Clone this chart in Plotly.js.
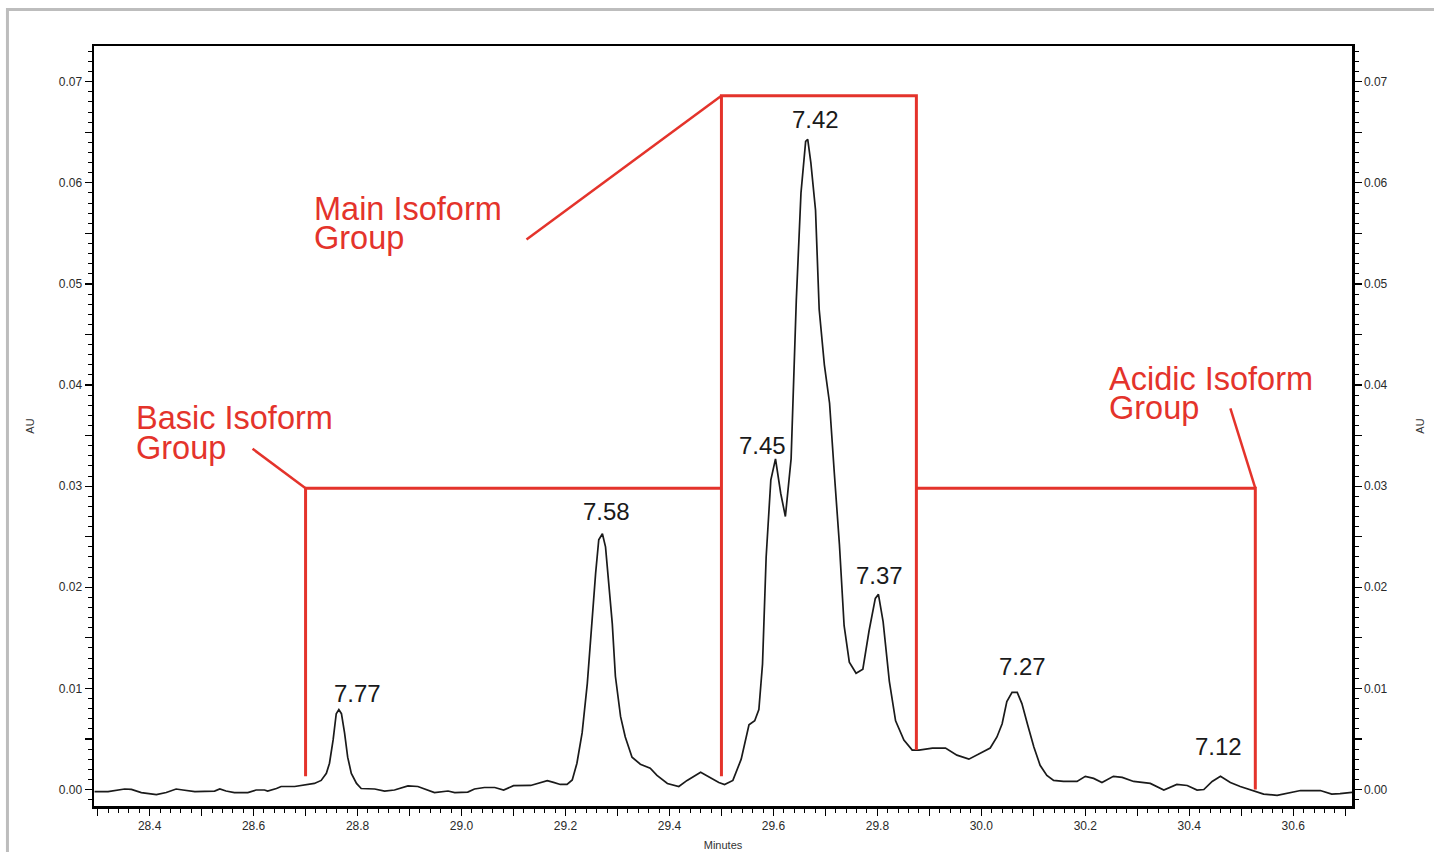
<!DOCTYPE html>
<html>
<head>
<meta charset="utf-8">
<script src="https://cdn.plot.ly/plotly-3.0.1.min.js"></script>
<style>
  html, body { margin: 0; padding: 0; background: #ffffff; }
  #chart { width: 1434px; height: 852px; }
</style>
</head>
<body>
<div id="chart"></div>
<script>
// Electropherogram trace: migration time (minutes) and absorbance (AU)
const minutes = [
  28.294, 28.320, 28.352, 28.365, 28.384, 28.413, 28.432, 28.451, 28.464, 28.487,
  28.525, 28.535, 28.547, 28.563, 28.589, 28.605, 28.621, 28.627, 28.644, 28.653,
  28.679, 28.698, 28.717, 28.730, 28.740, 28.746, 28.753, 28.759, 28.764, 28.769,
  28.775, 28.781, 28.788, 28.798, 28.807, 28.833, 28.852, 28.871, 28.897, 28.916,
  28.935, 28.948, 28.974, 28.987, 29.012, 29.025, 29.044, 29.064, 29.081, 29.100,
  29.133, 29.149, 29.165, 29.177, 29.190, 29.203, 29.213, 29.222, 29.232, 29.242,
  29.251, 29.258, 29.264, 29.271, 29.277, 29.283, 29.290, 29.296, 29.306, 29.315,
  29.328, 29.344, 29.363, 29.376, 29.396, 29.418, 29.434, 29.460, 29.479, 29.495,
  29.506, 29.522, 29.538, 29.553, 29.564, 29.572, 29.579, 29.586, 29.595, 29.604,
  29.614, 29.623, 29.634, 29.644, 29.653, 29.662, 29.666, 29.672, 29.681, 29.688,
  29.698, 29.708, 29.717, 29.727, 29.736, 29.746, 29.759, 29.772, 29.784, 29.796,
  29.802, 29.811, 29.823, 29.835, 29.851, 29.867, 29.880, 29.906, 29.931, 29.953,
  29.976, 29.992, 30.017, 30.030, 30.040, 30.049, 30.059, 30.069, 30.078, 30.089,
  30.101, 30.113, 30.126, 30.139, 30.158, 30.184, 30.200, 30.216, 30.232, 30.254,
  30.271, 30.293, 30.325, 30.351, 30.376, 30.396, 30.415, 30.428, 30.444, 30.460,
  30.479, 30.498, 30.524, 30.543, 30.569, 30.594, 30.614, 30.652, 30.674, 30.690,
  30.713
];
const absorbance = [
  -0.00020, -0.00020, 0.00005, 0.00002, -0.00030, -0.00050, -0.00030, 0.00005, -0.00005, -0.00020,
  -0.00015, 0.00005, -0.00015, -0.00030, -0.00030, -0.00005, -0.00005, -0.00015, 0.00010, 0.00030,
  0.00030, 0.00045, 0.00060, 0.00090, 0.00160, 0.00260, 0.00490, 0.00750, 0.00790, 0.00750,
  0.00560, 0.00320, 0.00160, 0.00060, 0.00010, 0.00005, -0.00015, -0.00005, 0.00035, 0.00030,
  -0.00010, -0.00030, -0.00015, -0.00030, -0.00025, 0.00005, 0.00020, 0.00020, -0.00005, 0.00038,
  0.00040, 0.00060, 0.00087, 0.00070, 0.00050, 0.00050, 0.00094, 0.00260, 0.00560, 0.01050,
  0.01710, 0.02140, 0.02470, 0.02530, 0.02400, 0.02040, 0.01640, 0.01120, 0.00720, 0.00520,
  0.00320, 0.00250, 0.00210, 0.00140, 0.00060, 0.00030, 0.00090, 0.00170, 0.00120, 0.00070,
  0.00050, 0.00090, 0.00300, 0.00640, 0.00680, 0.00790, 0.01240, 0.02300, 0.03060, 0.03270,
  0.02930, 0.02700, 0.03270, 0.04840, 0.05900, 0.06410, 0.06430, 0.06200, 0.05730, 0.04750,
  0.04200, 0.03820, 0.03140, 0.02420, 0.01620, 0.01260, 0.01150, 0.01190, 0.01570, 0.01890,
  0.01930, 0.01660, 0.01070, 0.00680, 0.00490, 0.00390, 0.00390, 0.00410, 0.00410, 0.00340,
  0.00300, 0.00340, 0.00410, 0.00520, 0.00650, 0.00870, 0.00960, 0.00960, 0.00850, 0.00640,
  0.00420, 0.00240, 0.00140, 0.00090, 0.00080, 0.00080, 0.00130, 0.00110, 0.00070, 0.00130,
  0.00120, 0.00080, 0.00060, -0.00005, 0.00050, 0.00040, -0.00005, 0.00000, 0.00080, 0.00130,
  0.00070, 0.00030, -0.00010, -0.00045, -0.00057, -0.00030, -0.00010, -0.00010, -0.00045, -0.00040,
  -0.00028
];

// Peak pI labels, in order of migration
const peakLabels = ['7.77', '7.58', '7.45', '7.42', '7.37', '7.27', '7.12'];

// Isoform groups: boundaries (minutes) and bracket heights (AU)
const groupNames = ['Basic Isoform', 'Main Isoform', 'Acidic Isoform'];
const groupBounds = [28.70, 29.50, 29.875, 30.527];
const groupLevels = [0.0298, 0.0686];

// Axis tick labels
const xTickLabels = ['28.4', '28.6', '28.8', '29.0', '29.2', '29.4', '29.6', '29.8', '30.0', '30.2', '30.4', '30.6'];
const yTickLabels = ['0.00', '0.01', '0.02', '0.03', '0.04', '0.05', '0.06', '0.07'];

// ---- ticks: labelled every 0.2 min / 0.01 AU, plain marks halfway between
const xTickVals = [], xTickText = [];
for (let i = 0; i <= 24; i++) {
  const v = +(28.3 + i * 0.1).toFixed(1);
  xTickVals.push(v);
  const lbl = v.toFixed(1);
  xTickText.push(xTickLabels.includes(lbl) ? lbl : '');
}
const yTickVals = [], yTickText = [];
for (let i = 0; i <= 14; i++) {
  const v = +(i * 0.005).toFixed(3);
  yTickVals.push(v);
  yTickText.push(i % 2 === 0 ? yTickLabels[i / 2] : '');
}

const RED = '#e4332b';
const FONT = 'Liberation Sans, Arial, Helvetica, sans-serif';
const xRange = [28.293, 30.713];
const yRange = [-0.00163, 0.07353];

const axisCommon = {
  showline: true, linecolor: '#000', linewidth: 2.5,
  ticks: 'outside', ticklen: 7, tickwidth: 1.2, tickcolor: '#000',
  showgrid: false, zeroline: false,
  tickfont: { family: FONT, size: 12, color: '#2a2a2a' }
};

const trace = {
  x: minutes, y: absorbance, type: 'scatter', mode: 'lines',
  line: { color: '#1a1a1a', width: 1.7 },
  hoverinfo: 'x+y'
};

// Peak label placement (minutes, AU) for each entry of peakLabels
const peakLabelPos = [
  [28.800, 0.00954], [29.278, 0.02754], [29.579, 0.03407], [29.680, 0.06622],
  [29.804, 0.02112], [30.080, 0.01212], [30.456, 0.00430]
];
const annotations = peakLabels.map((t, i) => ({
  x: peakLabelPos[i][0], y: peakLabelPos[i][1], xref: 'x', yref: 'y',
  text: t, showarrow: false, xanchor: 'center', yanchor: 'middle',
  font: { family: FONT, size: 24, color: '#1a1a1a' }
}));

// Group captions (two lines each) and leader-line end points
const captionPos = [
  { x: 28.369, y1: 0.03674, y2: 0.03377, lead: [28.598, 0.0337], corner: [groupBounds[0], groupLevels[0]] },
  { x: 28.713, y1: 0.05742, y2: 0.05455, lead: [29.125, 0.0544], corner: [groupBounds[1], groupLevels[1]] },
  { x: 30.242, y1: 0.04061, y2: 0.03773, lead: [30.479, 0.0377], corner: [groupBounds[3], groupLevels[0]] }
];
groupNames.forEach((name, i) => {
  const c = captionPos[i];
  [[name, c.y1], ['Group', c.y2]].forEach(([txt, yy]) => {
    annotations.push({
      x: c.x, y: yy, xref: 'x', yref: 'y', text: txt, showarrow: false,
      xanchor: 'left', yanchor: 'middle',
      font: { family: FONT, size: 32.5, color: RED }
    });
  });
});

const redLine = { color: RED, width: 3 };
const b = groupBounds, L = groupLevels;
const shapes = [
  // basic bracket
  { type: 'path', xref: 'x', yref: 'y', line: redLine,
    path: `M ${b[0]},0.0013 L ${b[0]},${L[0]} L ${b[1]},${L[0]}` },
  // main bracket
  { type: 'path', xref: 'x', yref: 'y', line: redLine,
    path: `M ${b[1]},0.0013 L ${b[1]},${L[1]} L ${b[2]},${L[1]} L ${b[2]},0.0039` },
  // acidic bracket
  { type: 'path', xref: 'x', yref: 'y', line: redLine,
    path: `M ${b[2]},${L[0]} L ${b[3]},${L[0]} L ${b[3]},0.0000` }
];
captionPos.forEach(c => {
  shapes.push({ type: 'line', xref: 'x', yref: 'y', line: { color: RED, width: 2.5 },
    x0: c.lead[0], y0: c.lead[1], x1: c.corner[0], y1: c.corner[1] });
});
// page frame
shapes.push({ type: 'path', xref: 'paper', yref: 'paper', layer: 'below',
  line: { color: '#bdbdbd', width: 3 },
  path: 'M -0.0688,-0.07 L -0.0688,1.048 L 1.07,1.048' });

const layout = {
  width: 1434, height: 852,
  margin: { l: 94, r: 82, t: 46, b: 46 },
  paper_bgcolor: '#fff', plot_bgcolor: '#fff',
  showlegend: false,
  font: { family: FONT, color: '#333' },
  xaxis: Object.assign({}, axisCommon, {
    range: xRange, mirror: true,
    tickmode: 'array', tickvals: xTickVals, ticktext: xTickText,
    minor: { dtick: 0.02, tick0: 28.3, ticklen: 4, tickwidth: 1, tickcolor: '#000', ticks: 'outside', showgrid: false },
    title: { text: 'Minutes', font: { family: FONT, size: 11, color: '#333' }, standoff: 10 }
  }),
  yaxis: Object.assign({}, axisCommon, {
    range: yRange, side: 'left',
    tickmode: 'array', tickvals: yTickVals, ticktext: yTickText,
    minor: { dtick: 0.001, tick0: 0, ticklen: 4, tickwidth: 1, tickcolor: '#000', ticks: 'outside', showgrid: false },
    title: { text: 'AU', font: { family: FONT, size: 11, color: '#333' }, standoff: 22 }
  }),
  yaxis2: Object.assign({}, axisCommon, {
    range: yRange, side: 'right', overlaying: 'y', anchor: 'x',
    tickmode: 'array', tickvals: yTickVals, ticktext: yTickText,
    minor: { dtick: 0.001, tick0: 0, ticklen: 4, tickwidth: 1, tickcolor: '#000', ticks: 'outside', showgrid: false },
    title: { text: 'AU', font: { family: FONT, size: 11, color: '#333' }, standoff: 30 }
  }),
  annotations: annotations,
  shapes: shapes
};

// companion trace on the right-hand axis so it shares the same scale
const rightAxisTrace = { x: minutes, y: absorbance, yaxis: 'y2', type: 'scatter', mode: 'lines',
  line: { color: 'rgba(0,0,0,0)', width: 0 }, hoverinfo: 'skip' };

Plotly.newPlot('chart', [trace, rightAxisTrace], layout, { displayModeBar: false, staticPlot: true });
</script>
</body>
</html>
